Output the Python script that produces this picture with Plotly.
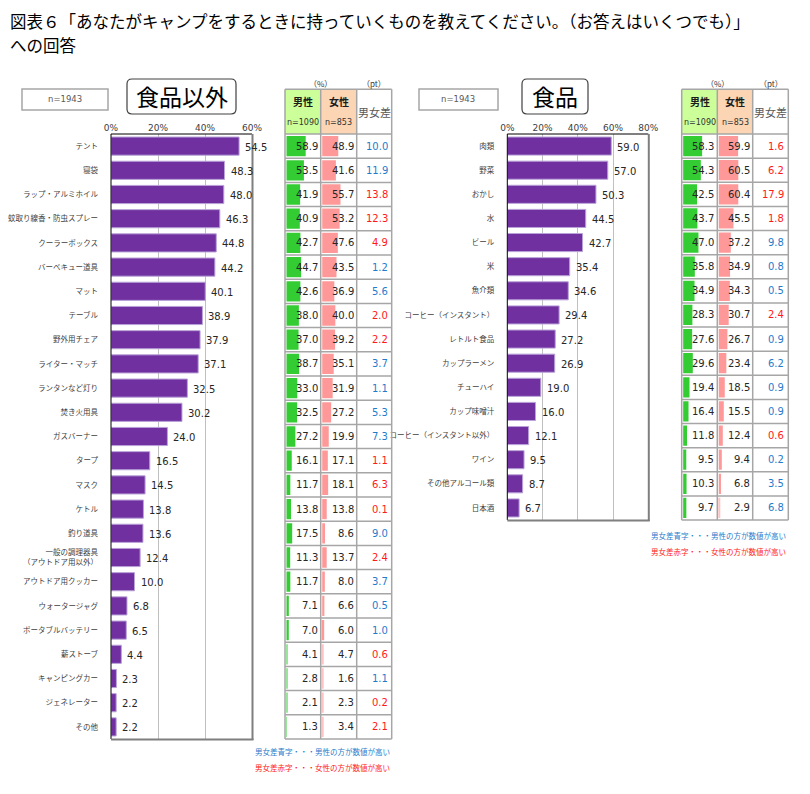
import plotly.graph_objects as go

# ---------------- data: 食品以外 ----------------
items1 = ["テント", "寝袋", "ラップ・アルミホイル", "蚊取り線香・防虫スプレー", "クーラーボックス",
          "バーベキュー道具", "マット", "テーブル", "野外用チェア", "ライター・マッチ",
          "ランタンなど灯り", "焚き火用具", "ガスバーナー", "タープ", "マスク", "ケトル",
          "釣り道具", "一般の調理器具<br>（アウトドア用以外）", "アウトドア用クッカー",
          "ウォータージャグ", "ポータブルバッテリー", "薪ストーブ", "キャンピングカー",
          "ジェネレーター", "その他"]
total1 = [54.5, 48.3, 48.0, 46.3, 44.8, 44.2, 40.1, 38.9, 37.9, 37.1, 32.5, 30.2, 24.0,
          16.5, 14.5, 13.8, 13.6, 12.4, 10.0, 6.8, 6.5, 4.4, 2.3, 2.2, 2.2]
male1 = [58.9, 53.5, 41.9, 40.9, 42.7, 44.7, 42.6, 38.0, 37.0, 38.7, 33.0, 32.5, 27.2,
         16.1, 11.7, 13.8, 17.5, 11.3, 11.7, 7.1, 7.0, 4.1, 2.8, 2.1, 1.3]
female1 = [48.9, 41.6, 55.7, 53.2, 47.6, 43.5, 36.9, 40.0, 39.2, 35.1, 31.9, 27.2, 19.9,
           17.1, 18.1, 13.8, 8.6, 13.7, 8.0, 6.6, 6.0, 4.7, 1.6, 2.3, 3.4]
# signed gap: + = 男性の方が高い (blue), - = 女性の方が高い (red)
diff1 = [10.0, 11.9, -13.8, -12.3, -4.9, 1.2, 5.6, -2.0, -2.2, 3.7, 1.1, 5.3, 7.3,
         -1.1, -6.3, -0.1, 9.0, -2.4, 3.7, 0.5, 1.0, -0.6, 1.1, -0.2, -2.1]

# ---------------- data: 食品 ----------------
items2 = ["肉類", "野菜", "おかし", "水", "ビール", "米", "魚介類", "コーヒー（インスタント）",
          "レトルト食品", "カップラーメン", "チューハイ", "カップ味噌汁",
          "コーヒー（インスタント以外）", "ワイン", "その他アルコール類", "日本酒"]
total2 = [59.0, 57.0, 50.3, 44.5, 42.7, 35.4, 34.6, 29.4, 27.2, 26.9, 19.0, 16.0, 12.1,
          9.5, 8.7, 6.7]
male2 = [58.3, 54.3, 42.5, 43.7, 47.0, 35.8, 34.9, 28.3, 27.6, 29.6, 19.4, 16.4, 11.8,
         9.5, 10.3, 9.7]
female2 = [59.9, 60.5, 60.4, 45.5, 37.2, 34.9, 34.3, 30.7, 26.7, 23.4, 18.5, 15.5, 12.4,
           9.4, 6.8, 2.9]
diff2 = [-1.6, -6.2, -17.9, -1.8, 9.8, 0.8, 0.5, -2.4, 0.9, 6.2, 0.9, 0.9, -0.6, 0.2,
         3.5, 6.8]

title_line1 = "図表６「あなたがキャンプをするときに持っていくものを教えてください。（お答えはいくつでも）」"
title_line2 = "への回答"
n_total = "n=1943"
n_male = "n=1090"
n_female = "n=853"
legend_blue = "男女差青字・・・男性の方が数値が高い"
legend_red = "男女差赤字・・・女性の方が数値が高い"

JP = "Noto Sans CJK JP"
NUM = "DejaVu Sans"
BLUE = "#1f7ccc"
RED = "#ff1a1a"

# page has an 8px body margin: figure origin sits at (8, 8) of the window
OX, OY = 8, 8
W, H = 810 - 2 * OX, 794 - 2 * OY


def fx(p):
    return (p - OX) / W


def fy(p):
    return 1 - (p - OY) / H


panels = [
    dict(items=items1, total=total1, male=male1, female=female1, diff=diff1,
         bar=(111, 252), xmax=60, ticks=[0, 20, 40, 60], rows=(134, 739),
         cols=(285, 320.7, 356.7, 391.7), nbox=(22, 108), name="食品以外", tbox=(127, 236),
         leg=(751, 767), lab=7.5, stand=12),
    dict(items=items2, total=total2, male=male2, female=female2, diff=diff2,
         bar=(507.3, 648.3), xmax=80, ticks=[0, 20, 40, 60, 80], rows=(134, 520),
         cols=(681.7, 717.3, 752.7, 788.3), nbox=(419, 498), name="食品", tbox=(522, 588),
         leg=(535, 551), lab=7.5, stand=12),
]

fig = go.Figure()
layout = dict(width=W, height=H, autosize=False, margin=dict(l=0, r=0, t=0, b=0, autoexpand=False),
              paper_bgcolor="white", plot_bgcolor="rgba(0,0,0,0)", showlegend=False,
              hovermode=False, font=dict(family=JP, color="#262626"))
shapes = []
annotations = []


def line(x0, y0, x1, y1, color, width):
    shapes.append(dict(type="line", xref="paper", yref="paper", x0=fx(x0), y0=fy(y0),
                       x1=fx(x1), y1=fy(y1), line=dict(color=color, width=width)))


def rrect(x0, y0, x1, y1, r):
    P = lambda x, y: f"{fx(x)},{fy(y)}"
    return (f"M {P(x0 + r, y0)} L {P(x1 - r, y0)} Q {P(x1, y0)} {P(x1, y0 + r)} "
            f"L {P(x1, y1 - r)} Q {P(x1, y1)} {P(x1 - r, y1)} L {P(x0 + r, y1)} "
            f"Q {P(x0, y1)} {P(x0, y1 - r)} L {P(x0, y0 + r)} Q {P(x0, y0)} {P(x0 + r, y0)} Z")


TROW_RANGE = [-4.6, 105]
HEAD_TOP = 89.3

for k, p in enumerate(panels, start=1):
    n = len(p["items"])
    xa_bar, xa_m, xa_f = 3 * k - 2, 3 * k - 1, 3 * k
    xid = lambda i: "x" if i == 1 else f"x{i}"
    yid = "y" if k == 1 else f"y{k}"
    lkey = lambda i: "xaxis" if i == 1 else f"xaxis{i}"
    ykey = "yaxis" if k == 1 else f"yaxis{k}"
    top, bot = p["rows"]
    rh = (bot - top) / n

    # main bar chart
    fig.add_trace(go.Bar(orientation="h", x=p["total"], y=p["items"], width=0.75,
                         marker=dict(color="#7030a0", line=dict(color="#b9a3d8", width=1)),
                         xaxis=xid(xa_bar), yaxis=yid, hoverinfo="skip"))
    # table data bars
    fig.add_trace(go.Bar(orientation="h", x=p["male"], y=p["items"], width=0.84,
                         marker=dict(color=["#33cc33" if v >= 5 else "#9be49b" for v in p["male"]],
                                     line=dict(width=0)),
                         xaxis=xid(xa_m), yaxis=yid, hoverinfo="skip"))
    fig.add_trace(go.Bar(orientation="h", x=p["female"], y=p["items"], width=0.84,
                         marker=dict(color=["#ff9999" if v >= 5 else "#ffc2c2" for v in p["female"]],
                                     line=dict(width=0)),
                         xaxis=xid(xa_f), yaxis=yid, hoverinfo="skip"))

    layout[lkey(xa_bar)] = dict(domain=[fx(p["bar"][0]), fx(p["bar"][1])], range=[0, p["xmax"]],
                                side="top", anchor=yid, tickvals=p["ticks"],
                                ticktext=[f"{t}%" for t in p["ticks"]], showgrid=True,
                                gridcolor="#c0c0c0", gridwidth=1, zeroline=False, showline=False,
                                ticks="", fixedrange=True, automargin=False,
                                tickfont=dict(family=NUM, size=9, color="#404040"))
    for xa, c0, c1 in ((xa_m, p["cols"][0], p["cols"][1]), (xa_f, p["cols"][1], p["cols"][2])):
        layout[lkey(xa)] = dict(domain=[fx(c0), fx(c1)], range=TROW_RANGE, anchor=yid,
                                visible=False, fixedrange=True, automargin=False)
    layout[ykey] = dict(domain=[fy(bot), fy(top)], type="category", range=[n - 0.5, -0.5],
                        anchor=xid(xa_bar), showgrid=False, zeroline=False, ticks="",
                        showline=False, ticklabelstandoff=p["stand"], fixedrange=True,
                        automargin=False,
                        tickfont=dict(family=JP, size=p["lab"], color="#404040"))

    # value labels next to the bars
    for i, v in enumerate(p["total"]):
        annotations.append(dict(xref=xid(xa_bar), yref=yid, x=v, y=i, text=f"{v:.1f}",
                                xanchor="left", yanchor="middle", xshift=4, yshift=-1,
                                showarrow=False, font=dict(family=NUM, size=10, color="#262626")))
    # table values
    for i in range(n):
        for xa, vals in ((xa_m, p["male"]), (xa_f, p["female"])):
            annotations.append(dict(xref=xid(xa), yref=yid, x=TROW_RANGE[1], y=i,
                                    text=f"{vals[i]:.1f}", xanchor="right", yanchor="middle",
                                    xshift=-1, showarrow=False,
                                    font=dict(family=NUM, size=10, color="#262626")))
        d = p["diff"][i]
        annotations.append(dict(xref="paper", yref=yid, x=fx(p["cols"][3]), y=i,
                                text=f"{abs(d):.1f}", xanchor="right", yanchor="middle",
                                xshift=-2, showarrow=False,
                                font=dict(family=NUM, size=10, color=BLUE if d > 0 else RED)))

    # chart frame
    bl, br = p["bar"]
    line(bl, top, br, top, "#000000", 1)
    line(bl, top, bl, bot, "#000000", 1)
    line(br + 0.5, top, br + 0.5, bot + 1, "#7f7f7f", 2)
    line(bl, bot + 0.5, br + 1.5, bot + 0.5, "#7f7f7f", 2)

    # table header fills
    c = p["cols"]
    shapes.append(dict(type="rect", xref="paper", yref="paper", x0=fx(c[0]), x1=fx(c[1]),
                       y0=fy(top), y1=fy(HEAD_TOP), fillcolor="#ccff99", line=dict(width=0)))
    shapes.append(dict(type="rect", xref="paper", yref="paper", x0=fx(c[1]), x1=fx(c[2]),
                       y0=fy(top), y1=fy(HEAD_TOP), fillcolor="#fcd5b4", line=dict(width=0)))
    # table grid
    for cx in c:
        line(cx, HEAD_TOP, cx, bot, "#a6a6a6", 1.5)
    line(c[0], HEAD_TOP, c[3], HEAD_TOP, "#a6a6a6", 1.5)
    for i in range(n + 1):
        line(c[0], top + i * rh, c[3], top + i * rh, "#a6a6a6", 1.5)

    # header texts
    def txt(x, y, s, size, color="#262626", family=JP, xanchor="center"):
        annotations.append(dict(xref="paper", yref="paper", x=fx(x), y=fy(y), text=s,
                                xanchor=xanchor, yanchor="middle", showarrow=False,
                                font=dict(family=family, size=size, color=color)))

    txt((c[0] + c[1]) / 2, 101, "<b>男性</b>", 10, "#1a1a1a")
    txt((c[1] + c[2]) / 2, 101, "<b>女性</b>", 10, "#1a1a1a")
    txt((c[0] + c[1]) / 2, 123, n_male, 8, "#333333", NUM)
    txt((c[1] + c[2]) / 2, 123, n_female, 8, "#333333", NUM)
    txt((c[2] + c[3]) / 2, 112, "男女差", 11, "#595959")
    txt(c[1], 83, "（%）", 8, "#333333")
    txt((c[2] + c[3]) / 2, 83, "（pt）", 8, "#333333")

    # n box
    n0, n1 = p["nbox"]
    shapes.append(dict(type="rect", xref="paper", yref="paper", x0=fx(n0), x1=fx(n1),
                       y0=fy(110), y1=fy(89), line=dict(color="#a6a6a6", width=1.5)))
    txt((n0 + n1) / 2, 99, n_total, 8.5, "#595959", NUM)

    # title box
    t0, t1 = p["tbox"]
    shapes.append(dict(type="path", xref="paper", yref="paper", path=rrect(t0, 79, t1, 114, 5),
                       line=dict(color="#404040", width=1.2), fillcolor="white"))
    txt((t0 + t1) / 2, 96.5, p["name"], 23, "#000000")

    # colour legend
    txt(c[3], p["leg"][0], legend_blue, 7.5, BLUE, JP, "right")
    txt(c[3], p["leg"][1], legend_red, 7.5, RED, JP, "right")

# page title (two lines as separate texts so they do not collide)
annotations.append(dict(xref="paper", yref="paper", x=fx(9), y=fy(8), text=title_line1,
                        xanchor="left", yanchor="top", showarrow=False, borderpad=0,
                        font=dict(family=JP, size=16.5, color="#000000")))
annotations.append(dict(xref="paper", yref="paper", x=fx(9), y=fy(32.5), text=title_line2,
                        xanchor="left", yanchor="top", showarrow=False, borderpad=0,
                        font=dict(family=JP, size=16.5, color="#000000")))

layout["shapes"] = shapes
layout["annotations"] = annotations
fig.update_layout(**layout)
fig.write_html("out.html", config={"displayModeBar": False})
